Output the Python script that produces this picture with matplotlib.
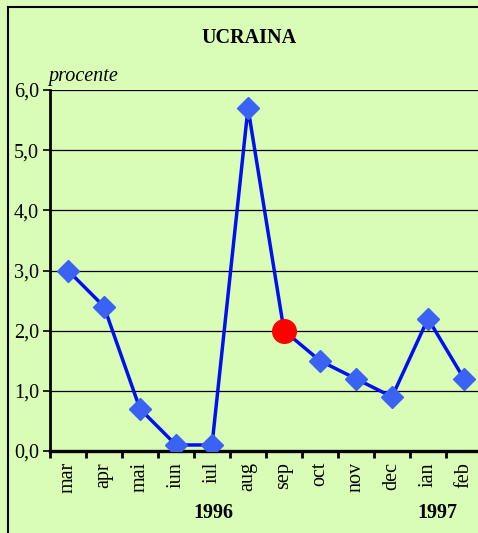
import numpy as np
import matplotlib.pyplot as plt
import matplotlib.transforms as mtransforms
from matplotlib.lines import Line2D

luni = ['mar', 'apr', 'mai', 'iun', 'iul', 'aug', 'sep', 'oct', 'nov', 'dec', 'ian', 'feb']
valori = [3.0, 2.4, 0.7, 0.1, 0.1, 5.7, 2.0, 1.5, 1.2, 0.9, 2.2, 1.2]
rosu_idx = 6  # sep, marcat cu cerc rosu
yticks = [0.0, 1.0, 2.0, 3.0, 4.0, 5.0, 6.0]
ani = ['1996', '1997']
ani_x = [4.05, 10.25]

fundal = '#d9fdb6'
plt.rcParams['font.family'] = ['Liberation Serif', 'DejaVu Serif']

fig = plt.figure(figsize=(4.78, 5.33), dpi=100, facecolor=fundal)
ax = fig.add_axes([50/478, 1 - 451/533, 432/478, 361/533])
ax.set_facecolor(fundal)

x = np.arange(len(luni))
ax.plot(x, valori, color='#0010f0', lw=2.5, zorder=3)
mask = x != rosu_idx
ax.plot(x[mask], np.array(valori)[mask], 'D', color='#3a62f5', ms=11, zorder=4)
ax.plot(x[rosu_idx], valori[rosu_idx], 'o', color='#ff0000', ms=17, zorder=5)

ax.set_xlim(-0.5, len(luni) - 0.5)
ax.set_ylim(0, 6)
ax.set_yticks(yticks)
ax.set_yticklabels([f'{v:.1f}'.replace('.', ',') for v in yticks], fontsize=14.5)
for v in yticks[1:]:
    ax.axhline(v, color='black', lw=0.9, zorder=1)

# ticks intre categorii, etichete centrate
ax.set_xticks(np.arange(len(luni) + 1) - 0.5)
ax.set_xticklabels([])
ax.set_xticks(x, minor=True)
ax.set_xticklabels(luni, minor=True, rotation=90, fontsize=14.5)
ax.tick_params(axis='x', which='minor', length=0, pad=8)
ax.tick_params(axis='x', which='major', length=5, width=2, direction='out')
ax.tick_params(axis='y', length=5, width=1.2, direction='out', pad=3)

for s in ['top', 'right']:
    ax.spines[s].set_visible(False)
ax.spines['left'].set_linewidth(2)
ax.spines['bottom'].set_linewidth(2.4)

trans = mtransforms.blended_transform_factory(ax.transData, fig.transFigure)
for an, xp in zip(ani, ani_x):
    ax.text(xp, 1 - 513/533, an, transform=trans, ha='center', va='center',
            fontsize=14.5, fontweight='bold')

fig.text(249/478, 1 - 38/533, 'UCRAINA', ha='center', va='center', fontsize=14.5, fontweight='bold')
fig.text(48/478, 1 - 76/533, 'procente', ha='left', va='center', fontsize=14.5, style='italic')

# chenarul exterior
fig.add_artist(Line2D([8/478, 8/478], [0, 1 - 7/533], color='black', lw=1.5, transform=fig.transFigure))
fig.add_artist(Line2D([8/478, 1], [1 - 7/533, 1 - 7/533], color='black', lw=1.5, transform=fig.transFigure))

fig.savefig('out.png', dpi=100, facecolor=fundal)
